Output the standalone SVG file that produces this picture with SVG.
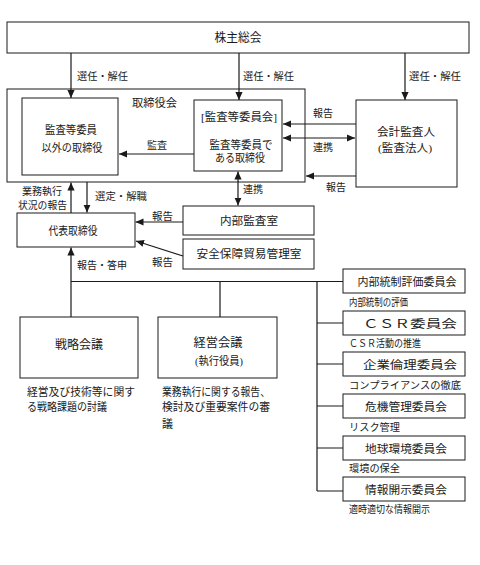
<svg xmlns="http://www.w3.org/2000/svg" width="480" height="565" viewBox="0 0 480 565">
<style>
text{font-family:"Liberation Serif","Noto Sans CJK JP",serif;fill:#1a1a1a;dominant-baseline:central;font-size:11px}
.c{text-anchor:middle}
.box{fill:#fff;stroke:#1a1a1a;stroke-width:1}
.ln{fill:none;stroke:#1a1a1a;stroke-width:1.2}
.a{marker-end:url(#ah)}
.d{marker-start:url(#ah);marker-end:url(#ah)}
.s{font-size:10px}
.L{font-size:12px}
</style>
<defs>
<marker id="ah" viewBox="0 0 10 10" refX="10" refY="5" markerWidth="8" markerHeight="8" markerUnits="userSpaceOnUse" orient="auto-start-reverse">
<path d="M0,0.5 L10,5 L0,9.5 z" fill="#1a1a1a"/>
</marker>
</defs>
<rect width="480" height="565" fill="#fff"/>

<g id="shareholders">
<rect class="box" x="7" y="22" width="462" height="31"/>
<text class="c L" x="238" y="38" textLength="47" lengthAdjust="spacingAndGlyphs">株主総会</text>
</g>

<g id="board">
<rect class="box" x="7" y="89" width="298" height="93"/>
<text x="132" y="103" textLength="45" lengthAdjust="spacingAndGlyphs">取締役会</text>
</g>

<g id="directors-other">
<rect class="box" x="22" y="98" width="96" height="77"/>
<text class="c" x="71" y="130" textLength="52" lengthAdjust="spacingAndGlyphs">監査等委員</text>
<text class="c" x="72" y="148" textLength="61" lengthAdjust="spacingAndGlyphs">以外の取締役</text>
</g>

<g id="audit-committee">
<rect class="box" x="194" y="100" width="88" height="71"/>
<text class="c" x="239" y="117" textLength="76" lengthAdjust="spacingAndGlyphs">[監査等委員会]</text>
<text class="c" x="241" y="145" textLength="63" lengthAdjust="spacingAndGlyphs">監査等委員で</text>
<text class="c" x="240" y="158" textLength="50" lengthAdjust="spacingAndGlyphs">ある取締役</text>
</g>

<g id="auditor">
<rect class="box" x="356" y="100" width="101" height="87"/>
<text class="c" x="406" y="132" textLength="58" lengthAdjust="spacingAndGlyphs">会計監査人</text>
<text class="c" x="405" y="148" textLength="54" lengthAdjust="spacingAndGlyphs">(監査法人)</text>
</g>

<g id="representative">
<rect class="box" x="17" y="213" width="118" height="34"/>
<text class="c" x="73" y="231" textLength="49" lengthAdjust="spacingAndGlyphs">代表取締役</text>
</g>

<g id="internal-audit">
<rect class="box" x="183" y="206" width="131" height="29"/>
<text class="c" x="249" y="221" textLength="58" lengthAdjust="spacingAndGlyphs">内部監査室</text>
</g>

<g id="security-trade">
<rect class="box" x="183" y="239" width="131" height="30"/>
<text class="c" x="249" y="254" textLength="105" lengthAdjust="spacingAndGlyphs">安全保障貿易管理室</text>
</g>

<g id="strategy">
<rect class="box" x="20" y="317" width="118" height="61"/>
<text class="c L" x="79" y="345" textLength="48" lengthAdjust="spacingAndGlyphs">戦略会議</text>
<text x="27" y="392" textLength="108" lengthAdjust="spacingAndGlyphs">経営及び技術等に関す</text>
<text x="27" y="407" textLength="80" lengthAdjust="spacingAndGlyphs">る戦略課題の討議</text>
</g>

<g id="management">
<rect class="box" x="158" y="317" width="119" height="61"/>
<text class="c L" x="218" y="343" textLength="49" lengthAdjust="spacingAndGlyphs">経営会議</text>
<text class="c" x="219" y="361" textLength="48" lengthAdjust="spacingAndGlyphs">(執行役員)</text>
<text x="162" y="392" textLength="108" lengthAdjust="spacingAndGlyphs">業務執行に関する報告、</text>
<text x="162" y="407" textLength="108" lengthAdjust="spacingAndGlyphs">検討及び重要案件の審</text>
<text x="162" y="424">議</text>
</g>

<g id="committee-internal-control">
<rect class="box" x="343" y="269" width="122" height="24"/>
<text class="c" x="407" y="282" textLength="99" lengthAdjust="spacingAndGlyphs">内部統制評価委員会</text>
<text class="s" x="349" y="302" textLength="59" lengthAdjust="spacingAndGlyphs">内部統制の評価</text>
</g>
<g id="committee-csr">
<rect class="box" x="343" y="311" width="122" height="24"/>
<text class="c" x="410" y="324" textLength="94" lengthAdjust="spacingAndGlyphs">ＣＳＲ委員会</text>
<text class="s" x="349" y="343" textLength="72" lengthAdjust="spacingAndGlyphs">ＣＳＲ活動の推進</text>
</g>
<g id="committee-ethics">
<rect class="box" x="343" y="352" width="122" height="24"/>
<text class="c" x="410" y="365" textLength="94" lengthAdjust="spacingAndGlyphs">企業倫理委員会</text>
<text class="s" x="349" y="385" textLength="112" lengthAdjust="spacingAndGlyphs">コンプライアンスの徹底</text>
</g>
<g id="committee-risk">
<rect class="box" x="343" y="394" width="122" height="24"/>
<text class="c" x="406" y="407" textLength="82" lengthAdjust="spacingAndGlyphs">危機管理委員会</text>
<text class="s" x="349" y="427" textLength="51" lengthAdjust="spacingAndGlyphs">リスク管理</text>
</g>
<g id="committee-environment">
<rect class="box" x="343" y="436" width="122" height="24"/>
<text class="c" x="406" y="449" textLength="82" lengthAdjust="spacingAndGlyphs">地球環境委員会</text>
<text class="s" x="349" y="468" textLength="51" lengthAdjust="spacingAndGlyphs">環境の保全</text>
</g>
<g id="committee-disclosure">
<rect class="box" x="343" y="477" width="122" height="24"/>
<text class="c" x="406" y="490" textLength="82" lengthAdjust="spacingAndGlyphs">情報開示委員会</text>
<text class="s" x="349" y="509" textLength="81" lengthAdjust="spacingAndGlyphs">適時適切な情報開示</text>
</g>

<g id="connectors">
<path class="ln a" d="M71,53 V98"/>
<path class="ln a" d="M239,53 V100"/>
<path class="ln a" d="M405,53 V100"/>
<path class="ln a" d="M194,154 H119"/>
<path class="ln a" d="M356,124 H283"/>
<path class="ln d" d="M283,138 H355"/>
<path class="ln a" d="M356,176 H306"/>
<path class="ln d" d="M238,171.5 V205.5"/>
<path class="ln a" d="M71,213 V182.5"/>
<path class="ln a" d="M87,182 V212.5"/>
<path class="ln a" d="M183,222 H135.5"/>
<path class="ln a" d="M183,256 L136,241"/>
<path class="ln a" d="M71,317 V247.5"/>
<path class="ln" d="M71,281.5 H343 M220,281.5 V317 M317,281.5 V491 M317,323 H343 M317,364 H343 M317,406 H343 M317,448 H343 M317,491 H343"/>
<text class="s" x="77" y="76" textLength="51" lengthAdjust="spacingAndGlyphs">選任・解任</text>
<text class="s" x="243" y="76" textLength="51" lengthAdjust="spacingAndGlyphs">選任・解任</text>
<text class="s" x="409" y="76" textLength="52" lengthAdjust="spacingAndGlyphs">選任・解任</text>
<text class="s" x="147" y="145" textLength="20" lengthAdjust="spacingAndGlyphs">監査</text>
<text class="s" x="313" y="113" textLength="20" lengthAdjust="spacingAndGlyphs">報告</text>
<text class="s" x="313" y="147" textLength="20" lengthAdjust="spacingAndGlyphs">連携</text>
<text class="s" x="326" y="187" textLength="20" lengthAdjust="spacingAndGlyphs">報告</text>
<text class="s" x="243" y="189" textLength="20" lengthAdjust="spacingAndGlyphs">連携</text>
<text class="s" x="22" y="191" textLength="40" lengthAdjust="spacingAndGlyphs">業務執行</text>
<text class="s" x="18" y="205" textLength="49" lengthAdjust="spacingAndGlyphs">状況の報告</text>
<text class="s" x="95" y="196" textLength="52" lengthAdjust="spacingAndGlyphs">選定・解職</text>
<text class="s" x="152" y="216" textLength="21" lengthAdjust="spacingAndGlyphs">報告</text>
<text class="s" x="152" y="262" textLength="21" lengthAdjust="spacingAndGlyphs">報告</text>
<text class="s" x="77" y="265" textLength="50" lengthAdjust="spacingAndGlyphs">報告・答申</text>
</g>
</svg>
